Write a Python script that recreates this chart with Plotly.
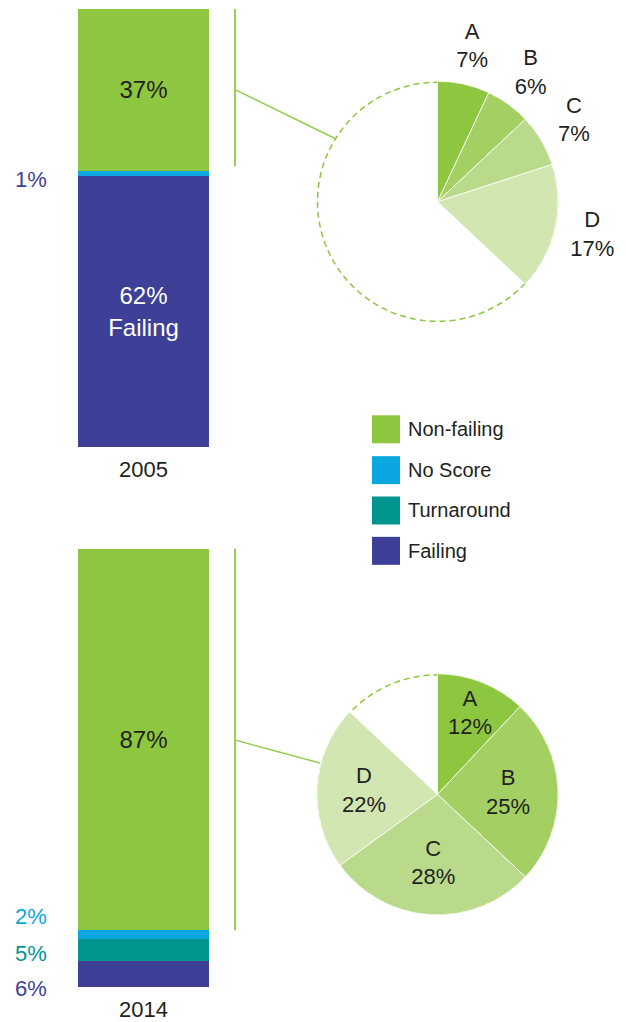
import numpy as np
import plotly.graph_objects as go

# ---------------- data ----------------
years = ["2005", "2014"]
categories = ["Failing", "Turnaround", "No Score", "Non-failing"]  # stacked bottom -> top
shares_2005 = [62, 0, 1, 37]
shares_2014 = [6, 5, 2, 87]
grades = ["A", "B", "C", "D"]
grades_2005 = [7, 6, 7, 17]
grades_2014 = [12, 25, 28, 22]
legend_order = ["Non-failing", "No Score", "Turnaround", "Failing"]

# ---------------- style / layout ----------------
W, H = 626, 1022
FONT = "Liberation Sans"
INK = "#231f20"
cat_colors = {"Failing": "#3e3f97", "Turnaround": "#00958f",
              "No Score": "#0aa7e0", "Non-failing": "#8dc63f"}
grade_colors = ["#8dc63f", "#a4cf63", "#b9da8b", "#d2e6b2"]
LINE_GREEN = "#98cc55"


def px(x):
    return x / W


def py(y):
    return 1 - y / H


bar_box = {"2005": (78, 209, 9, 449), "2014": (78, 209, 551, 991)}
pie_center = {"2005": (437.5, 202.5), "2014": (437.5, 797.5)}
R = 121
axes = {"2005": ("x", "y"), "2014": ("x2", "y2")}

fig = go.Figure()

# ---------------- stacked bars ----------------
for yr, shares in zip(years, [shares_2005, shares_2014]):
    xa, ya = axes[yr]
    for cat, v in zip(categories, shares):
        txt = ""
        if v >= 30:
            txt = f"{v}%" + ("<br>Failing" if cat == "Failing" else "")
        fig.add_trace(go.Bar(
            x=[yr], y=[v], xaxis=xa, yaxis=ya, width=1,
            marker=dict(color=cat_colors[cat], line=dict(width=0)),
            text=[txt], textposition="inside", insidetextanchor="middle",
            textangle=0,
            textfont=dict(family=FONT, size=24,
                          color="white" if cat == "Failing" else INK),
            showlegend=False, hoverinfo="skip"))

# ---------------- pies ----------------
for yr, vals in zip(years, [grades_2005, grades_2014]):
    cx, cy = pie_center[yr]
    rest = 100 - sum(vals)
    inside = yr == "2014"
    texts = [f"{g}<br>{v}%" for g, v in zip(grades, vals)] + [""]
    fig.add_trace(go.Pie(
        values=vals + [rest], labels=grades + ["rest"],
        sort=False, direction="clockwise", rotation=0,
        marker=dict(colors=grade_colors + ["rgba(0,0,0,0)"],
                    line=dict(color="white", width=[0.8] * 4 + [0])),
        text=texts, textinfo="text" if inside else "none",
        textposition="inside", insidetextorientation="horizontal",
        textfont=dict(family=FONT, size=22, color=INK),
        domain=dict(x=[px(cx - R), px(cx + R)], y=[py(cy + R), py(cy - R)]),
        showlegend=False, hoverinfo="skip"))
    # dashed outline of the full circle (visible only where slices are empty)
    fig.add_shape(type="circle", xref="paper", yref="paper", layer="below",
                  x0=px(cx - R + 1), x1=px(cx + R - 1),
                  y0=py(cy + R - 1), y1=py(cy - R + 1),
                  line=dict(color="#8dc63f", width=1.5, dash="6px,4px"))

# outside labels for 2005 pie, placed at the slice mid-angles
cx, cy = pie_center["2005"]
cum = np.cumsum([0] + grades_2005[:-1])
mid = 2 * np.pi * (cum + np.array(grades_2005) / 2) / 100
rl = 1.31 * R
fig.add_trace(go.Scatter(
    x=cx + rl * np.sin(mid), y=cy - rl * np.cos(mid), xaxis="x3", yaxis="y3",
    mode="text", text=[f"{g}<br>{v}%" for g, v in zip(grades, grades_2005)],
    textposition="middle center",
    textfont=dict(family=FONT, size=22, color=INK),
    showlegend=False, hoverinfo="skip"))

# ---------------- custom legend ----------------
leg_y = [431, 472, 512.5, 553]
fig.add_trace(go.Scatter(
    x=[386] * 4, y=leg_y, xaxis="x3", yaxis="y3", mode="markers",
    marker=dict(symbol="square", size=28,
                color=[cat_colors[c] for c in legend_order], line=dict(width=0)),
    showlegend=False, hoverinfo="skip"))
for c, yy in zip(legend_order, leg_y):
    fig.add_annotation(x=px(406), y=py(yy), xref="paper", yref="paper",
                       text=c, showarrow=False, xanchor="left", yanchor="middle",
                       font=dict(family=FONT, size=20, color=INK))

# ---------------- small side labels ----------------
side = [("2005", "No Score", 180, cat_colors["Failing"]),
        ("2014", "No Score", 920, cat_colors["No Score"]),
        ("2014", "Turnaround", 957, cat_colors["Turnaround"]),
        ("2014", "Failing", 992, cat_colors["Failing"])]
share_map = {"2005": dict(zip(categories, shares_2005)),
             "2014": dict(zip(categories, shares_2014))}
for yr, cat, yy, col in side:
    fig.add_annotation(x=px(31), y=py(yy), xref="paper", yref="paper",
                       text=f"{share_map[yr][cat]}%", showarrow=False,
                       xanchor="center", yanchor="middle",
                       font=dict(family=FONT, size=22, color=col))

# ---------------- brackets & connectors ----------------
brackets = [(9, 167, 90, 335, 139), (551, 934, 743, 320, 766)]
for y0, y1, ym, ex, ey in brackets:
    fig.add_shape(type="line", xref="paper", yref="paper",
                  x0=px(235), x1=px(235), y0=py(y0), y1=py(y1),
                  line=dict(color=LINE_GREEN, width=2))
    fig.add_shape(type="line", xref="paper", yref="paper",
                  x0=px(235), x1=px(ex), y0=py(ym), y1=py(ey),
                  line=dict(color=LINE_GREEN, width=1.5))

# ---------------- axes ----------------
common_y = dict(range=[0, 100], visible=False, fixedrange=True)
common_x = dict(type="category", showgrid=False, zeroline=False, showline=False,
                ticks="", ticklabelstandoff=7,
                tickfont=dict(family=FONT, size=22, color=INK),
                fixedrange=True)
b5, b14 = bar_box["2005"], bar_box["2014"]
fig.update_layout(
    width=W, height=H, margin=dict(l=0, r=0, t=0, b=0),
    paper_bgcolor="white", plot_bgcolor="rgba(0,0,0,0)",
    barmode="stack", bargap=0, showlegend=False,
    uniformtext=dict(minsize=22, mode="show"),
    font=dict(family=FONT, color=INK),
    xaxis=dict(domain=[px(b5[0]), px(b5[1])], anchor="y", **common_x),
    yaxis=dict(domain=[py(b5[3]), py(b5[2])], anchor="x", **common_y),
    xaxis2=dict(domain=[px(b14[0]), px(b14[1])], anchor="y2", **common_x),
    yaxis2=dict(domain=[py(b14[3]), py(b14[2])], anchor="x2", **common_y),
    xaxis3=dict(domain=[0, 1], range=[0, W], visible=False, anchor="y3", fixedrange=True),
    yaxis3=dict(domain=[0, 1], range=[H, 0], visible=False, anchor="x3", fixedrange=True),
)

fig.write_html("out.html", config={"displayModeBar": False},
               post_script="document.body.style.margin='0';"
                           "document.body.style.overflow='hidden';")
